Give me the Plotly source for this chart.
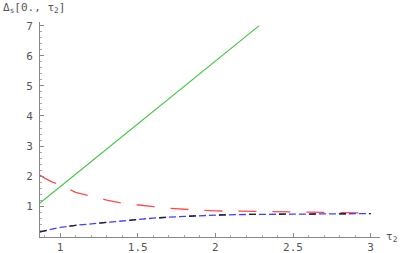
import plotly.graph_objects as go

# data
x_red = [0.87, 0.9, 0.95, 1.0, 1.1, 1.2, 1.3, 1.4, 1.5, 1.6, 1.7, 1.8, 1.9, 2.0, 2.2, 2.4, 2.6, 2.8, 3.0]
y_red = [2.03, 1.93, 1.80, 1.70, 1.46, 1.32, 1.20, 1.10, 1.03, 0.98, 0.93, 0.89, 0.86, 0.84, 0.82, 0.80, 0.79, 0.78, 0.77]

x_blue = [0.87, 0.9, 0.95, 1.0, 1.1, 1.2, 1.3, 1.4, 1.5, 1.6, 1.7, 1.8, 1.9, 2.0, 2.2, 2.4, 2.6, 2.8, 3.0]
y_blue = [0.14, 0.18, 0.24, 0.29, 0.36, 0.41, 0.46, 0.51, 0.56, 0.60, 0.63, 0.66, 0.68, 0.70, 0.72, 0.73, 0.74, 0.75, 0.75]

x_green = [0.87, 2.28]
y_green = [1.1, 7.0]

x_ticks = [1, 1.5, 2, 2.5, 3]
x_tick_labels = ["1", "1.5", "2", "2.5", "3"]
y_ticks = [1, 2, 3, 4, 5, 6, 7]

fig = go.Figure()
fig.add_trace(go.Scatter(x=x_green, y=y_green, mode="lines",
                         line=dict(color="#44c444", width=1.2)))
fig.add_trace(go.Scatter(x=x_red, y=y_red, mode="lines",
                         line=dict(color="#ff4a4a", width=1.3, dash="18px,16px")))
fig.add_trace(go.Scatter(x=x_blue, y=y_blue, mode="lines",
                         line=dict(color="#4040ff", width=1.3, dash="7px,3px")))
fig.add_trace(go.Scatter(x=x_blue, y=y_blue, mode="lines",
                         line=dict(color="#222222", width=1.3, dash="7px,23px")))

tickfont = dict(family="DejaVu Sans Mono", size=11, color="#555555")
fig.update_layout(
    width=409, height=253,
    margin=dict(l=40, r=29, t=22, b=16),
    paper_bgcolor="white", plot_bgcolor="white",
    showlegend=False,
    xaxis=dict(range=[0.87, 3.06], tickvals=x_ticks, ticktext=x_tick_labels,
               automargin=False,
               showgrid=False, zeroline=False, showline=True, linecolor="#888888",
               linewidth=1, ticks="inside", ticklen=4, tickcolor="#888888",
               tickfont=tickfont, ticklabelstandoff=0,
               minor=dict(dtick=0.1, ticks="inside", ticklen=2, tickcolor="#aaaaaa", showgrid=False)),
    yaxis=dict(range=[-0.03, 7.13], tickvals=y_ticks,
               automargin=False,
               showgrid=False, zeroline=False, showline=True, linecolor="#888888",
               linewidth=1, ticks="inside", ticklen=4, tickcolor="#888888",
               tickfont=tickfont, ticklabelstandoff=4,
               minor=dict(dtick=0.2, ticks="inside", ticklen=2, tickcolor="#aaaaaa", showgrid=False)),
)
fig.add_annotation(xref="paper", yref="paper", x=0, y=1, xshift=-39, yshift=14,
                   xanchor="left", yanchor="middle", showarrow=False,
                   text="Δ<sub>s</sub>[0., τ<sub>2</sub>]",
                   font=dict(family="DejaVu Sans Mono", size=11, color="#555555"))
fig.add_annotation(xref="paper", yref="paper", x=1, y=0, xshift=4,
                   xanchor="left", yanchor="middle", showarrow=False,
                   text="τ<sub>2</sub>",
                   font=dict(family="DejaVu Sans Mono", size=11, color="#555555"))
fig.write_html("out.html", config={"displayModeBar": False},
               post_script="document.body.style.margin='0';document.body.style.overflow='hidden';")
